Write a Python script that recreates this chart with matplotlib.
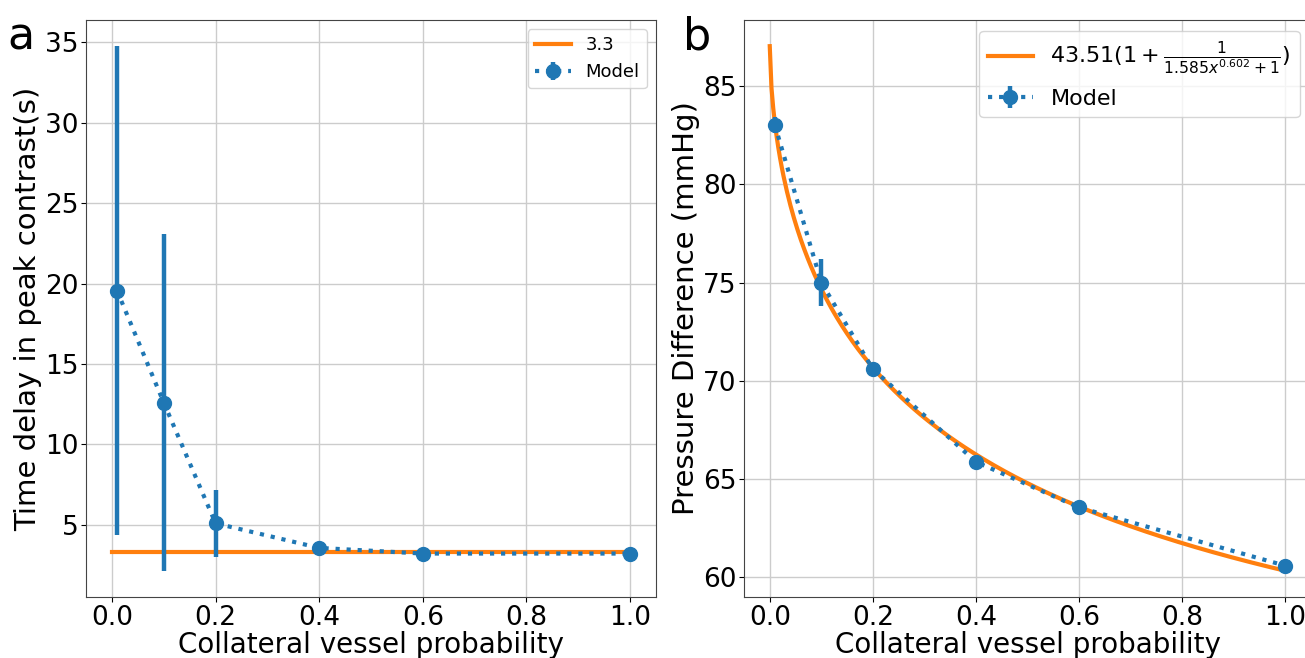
import numpy as np
from matplotlib import pyplot as plt

# collateral vessel probability
prob = [0.01, 0.1, 0.2, 0.4, 0.6, 1.0]

# panel a: time delay in peak contrast
delay = [19.55, 12.6, 5.1, 3.57, 3.22, 3.22]
delay_err = [15.2, 10.45, 2.07, 0.2, 0.1, 0.1]
delay_fit_x = [0.0, 1.0]
delay_fit = 3.3

# panel b: pressure difference
pressure = [83.0, 75.0, 70.6, 65.88, 63.56, 60.6]
pressure_err = [0.4, 1.2, 0.3, 0.2, 0.15, 0.15]
# fitted curve  a(1 + 1/(k x^p + 1))
fit_a = 43.51
fit_k = 1.585
fit_p = 0.602

fig = plt.figure(figsize=(13.05, 6.58), dpi=100)
ax1 = fig.add_axes([0.0659, 0.0927, 0.4368, 0.877])
ax2 = fig.add_axes([0.5701, 0.0927, 0.4345, 0.877])

# ---- panel a
ax1.plot(delay_fit_x, [delay_fit] * len(delay_fit_x), color='tab:orange', lw=3,
         label=str(delay_fit))
ax1.errorbar(prob, delay, yerr=delay_err, color='tab:blue', ls=':', lw=3,
             marker='o', ms=10, elinewidth=3.2, label='Model')
ax1.grid(True, color='#cccccc', lw=1)
ax1.set_axisbelow(True)
ax1.set_xlabel('Collateral vessel probability', fontsize=20, labelpad=0)
ax1.set_ylabel('Time delay in peak contrast(s)', fontsize=21, labelpad=2)
ax1.tick_params(labelsize=19, pad=2)
ax1.legend(fontsize=13, loc='upper right')

# ---- panel b
xs = np.linspace(0, 1, 300)
curve = fit_a * (1 + 1 / (fit_k * xs ** fit_p + 1))
ax2.plot(xs, curve, color='tab:orange', lw=3,
         label=r'$43.51(1+\frac{1}{1.585x^{0.602}+1})$')
ax2.errorbar(prob, pressure, yerr=pressure_err, color='tab:blue', ls=':', lw=3,
             marker='o', ms=10, elinewidth=3.2, label='Model')
ax2.grid(True, color='#cccccc', lw=1)
ax2.set_axisbelow(True)
ax2.set_xlabel('Collateral vessel probability', fontsize=20, labelpad=0)
ax2.set_ylabel('Pressure Difference (mmHg)', fontsize=21, labelpad=2)
ax2.tick_params(labelsize=19, pad=2)
ax2.legend(fontsize=16, loc='upper right')

for ax in (ax1, ax2):
    for s in ax.spines.values():
        s.set_color('#444444')

fig.text(0.006, 0.925, 'a', fontsize=32)
fig.text(0.523, 0.925, 'b', fontsize=32)

fig.savefig('out.png', dpi=100)
